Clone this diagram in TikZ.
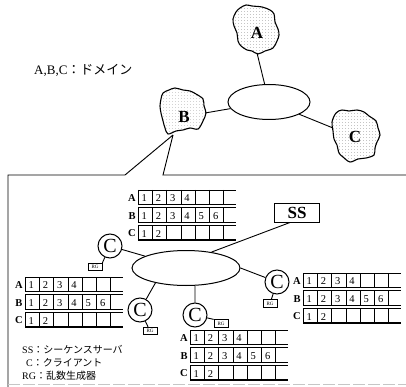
\documentclass[tikz,border=0pt]{standalone}
\usepackage{fontspec}
\setmainfont{Liberation Serif}
\newfontfamily\jp{Noto Sans CJK JP}
\usetikzlibrary{shapes.geometric,patterns.meta}

\tikzdeclarepattern{
  name=stipple,
  type=colored,
  bounding box={(0pt,0pt) and (3.4pt,3.4pt)},
  tile size={(3.4pt,3.4pt)},
  code={\fill[black!35] (1.7pt,1.7pt) circle[radius=0.38pt];}
}

\tikzset{
  line/.style={line width=0.9pt},
  cloud/.style={line width=1.1pt, pattern=stipple},
  ring/.style={ellipse, draw, line width=1pt, inner sep=0pt},
  client/.style={circle, draw, line width=1pt, minimum size=24pt, inner sep=0pt, font=\fontsize{20}{20}\selectfont},
  rgbox/.style={draw, line width=0.7pt, minimum width=14pt, minimum height=7.5pt, inner sep=0.5pt, font=\fontsize{5}{5}\selectfont},
  tabline/.style={line width=0.8pt},
  tabbot/.style={line width=1.2pt},
  tablab/.style={font=\bfseries\fontsize{10.5}{10.5}\selectfont, inner sep=0pt},
  digit/.style={font=\fontsize{10.5}{10.5}\selectfont, inner sep=0pt},
  cloudlab/.style={font=\bfseries\fontsize{17}{17}\selectfont, inner sep=0pt},
  legend/.style={anchor=west, inner sep=0pt, font=\fontsize{10}{12}\selectfont},
}

\newcommand{\seqtab}[3]{%
  \foreach \r/\n/\lab in {0/4/A,1/6/B,2/2/C}{
    \pgfmathsetmacro\yt{#2+\r*17.7}
    \draw[tabline] ({#1},{\yt}) -- ++(98,0);
    \draw[tabbot] ({#1},{\yt+14.5}) -- ++(98,0);
    \foreach \i in {0,...,6} \draw[tabline] ({#1+\i*14.3},{\yt}) -- ++(0,14.5);
    \node[tablab] (#3\lab) at ({#1-6},{\yt+8}) {\lab};
    \foreach \i in {1,...,\n} \node[digit] (#3\lab\i) at ({#1+(\i-0.5)*14.3-1},{\yt+8.5}) {\i};
  }}

\begin{document}
\begin{tikzpicture}[x=1pt,y=-1pt]
\useasboundingbox (0,0) rectangle (406,387);

% clouds (domains)
\draw[cloud] plot[smooth cycle, tension=0.55] coordinates {
  (240,8) (246,5) (252,6) (262,7) (270,10) (274,14) (275,22) (278,29) (279,35)
  (277,41) (273,48) (265,51) (258,54) (252,51) (247,50) (241,46) (238,41) (237,33)
  (234,26) (233,19) (236,12)};
\draw[cloud] plot[smooth cycle, tension=0.55] coordinates {
  (163,93) (169,90) (175,88) (183,90) (190,91) (196,94) (203,99) (204,106) (206,113)
  (203,121) (198,129) (190,128) (183,130) (176,131) (168,134) (165,128) (163,121)
  (161,113) (160,106) (161,99)};
\draw[cloud] plot[smooth cycle, tension=0.55] coordinates {
  (336,113) (342,110) (349,111) (357,110) (364,112) (369,116) (376,121) (378,128)
  (380,135) (377,142) (375,148) (374,155) (366,158) (358,159) (350,162) (343,157)
  (339,153) (337,145) (334,139) (333,131) (332,122)};

\node[cloudlab] (clA) at (257,33) {A};
\node[cloudlab] (clB) at (184,117) {B};
\node[cloudlab] (clC) at (355,137) {C};

\coordinate (Abot) at (257,53);
\coordinate (Bright) at (205,113);
\coordinate (Cleft) at (333,128);
\coordinate (Bbot) at (173,135);

\node[ring, minimum width=82pt, minimum height=35pt] (top) at (269,102) {};
\draw[line] (Abot) -- (top);
\draw[line] (Bright) -- (top);
\draw[line] (top) -- (Cleft);

\node[anchor=west, inner sep=0pt, font=\fontsize{13}{13}\selectfont] (dom) at (34,70) {A,B,C{\jp：ドメイン}};

% enlarged frame of domain B
\coordinate (f1) at (125,175);
\coordinate (f2) at (163,175);
\coordinate (f1c) at (8,175);
\coordinate (f1d) at (8,387);
\coordinate (f2e) at (406,175);
\draw[line] (Bbot) -- (f1) -- (f1c) -- (f1d);
\draw[line] (Bbot) -- (f2) -- (f2e);
\coordinate (g1) at (8,384);
\coordinate (g2) at (406,384);
\draw[gray!45, line width=0.6pt, dash pattern=on 12pt off 3pt] (g1) -- (g2);

% inner ring, server, clients
\node[ring, minimum width=108pt, minimum height=35pt] (lan) at (186,268) {};
\node[draw, line width=1pt, minimum width=45pt, minimum height=19pt, inner sep=0pt,
      font=\bfseries\fontsize{17}{17}\selectfont] (SS) at (297,212.5) {SS};
\draw[line] (lan.32) -- ([xshift=-7pt]SS.south);

\node[client] (C1) at (110,246) {C};
\node[client] (C2) at (140,310) {C};
\node[client] (C3) at (195,315) {C};
\node[client] (C4) at (277,282) {C};

\draw[line] (C1) -- (lan);
\draw[line] (C2) -- (lan.206);
\draw[line] (C3.north) -- (lan.297);
\draw[line] (C4) -- (lan.east);

\node[rgbox] (RG1) at (95,267) {RG};
\node[rgbox] (RG2) at (150,331) {RG};
\node[rgbox] (RG3) at (221,323.5) {RG};
\node[rgbox] (RG4) at (270,303.5) {RG};

\draw[line] (C1) -- (RG1.north east);
\draw[line] (C2) -- (RG2);
\draw[line] (C3) -- (RG3.north west);
\draw[line] (C4) -- (RG4);

% sequence tables
\seqtab{138}{190}{t}
\seqtab{25}{277}{l}
\seqtab{190}{330}{b}
\seqtab{303}{273}{r}

% legend
\node[legend] (lg1) at (22,350) {SS{\jp：シーケンスサーバ}};
\node[legend] (lg2) at (26,363) {C{\jp：クライアント}};
\node[legend] (lg3) at (22,376) {RG{\jp：乱数生成器}};
\end{tikzpicture}
\end{document}
